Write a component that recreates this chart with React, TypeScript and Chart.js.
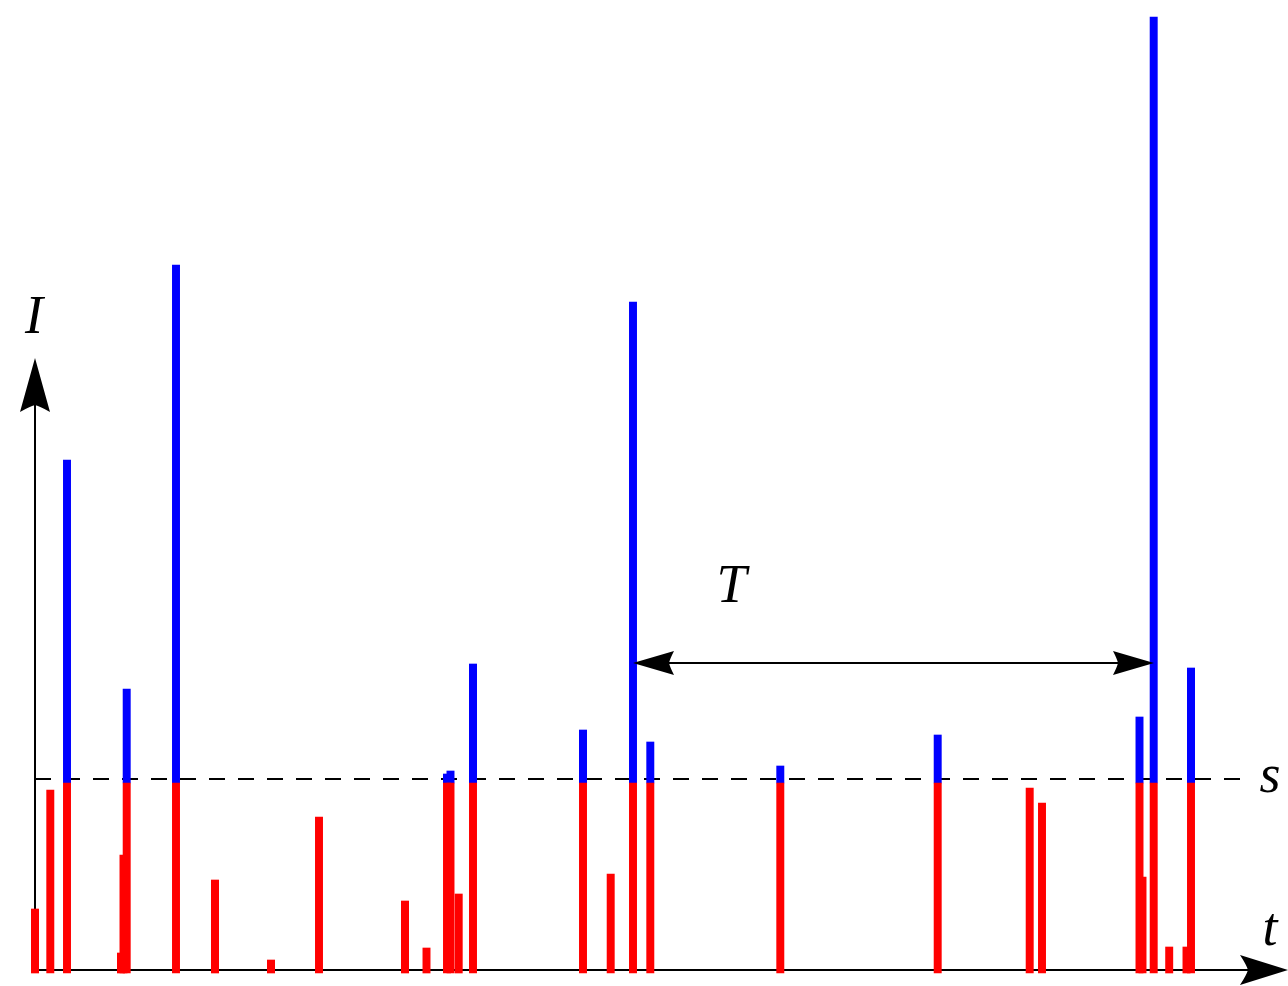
import { useEffect, useRef } from "react";
import { Chart, registerables } from "chart.js";

Chart.register(...registerables);

// time positions of the pulses (t = 0 at the vertical axis)
const T_VALUES = [
  0, 15.3, 32, 86, 88.5, 91.7, 141, 180, 236, 284, 370, 391.5, 412, 415.5, 423.7,
  438, 548, 575.7, 598, 615.3, 745.3, 902.7, 994.7, 1007, 1104.5, 1107.5, 1118.7,
  1134.2, 1151.5, 1156,
];
// intensities of the pulses
const I_VALUES = [
  61, 180, 510, 17, 115, 281, 705, 90, 10, 153, 69, 22, 196, 199, 76, 306, 240, 96,
  668, 228, 204, 235, 182, 167, 253, 93, 953, 23, 23, 302,
];
const S_LEVEL = 191; // threshold s (dashed line)
const RED_CAP = 187; // where the colour switches from red to blue
const BAR_FLOOR = -3;
const T_SPAN = [598, 1119]; // the period T between two large pulses
const T_SPAN_LEVEL = 307;
const X_MIN = -35;
const X_MAX = 1253;
const Y_MIN = -16;
const Y_MAX = 970;
const Y_AXIS_TOP = 612;
const DASH_END = 1210;

function stealth(
  ctx: CanvasRenderingContext2D,
  tx: number,
  ty: number,
  dx: number,
  dy: number,
  len: number,
  hw: number,
  notch: number
) {
  const px = -dy;
  const py = dx;
  const bx = tx - dx * len;
  const by = ty - dy * len;
  const nx = tx - dx * (len - notch);
  const ny = ty - dy * (len - notch);
  ctx.beginPath();
  ctx.moveTo(tx, ty);
  ctx.lineTo(bx + px * hw, by + py * hw);
  ctx.quadraticCurveTo(nx - dx * notch * 0.2 + px * hw * 0.35, ny - dy * notch * 0.2 + py * hw * 0.35, nx, ny);
  ctx.quadraticCurveTo(nx - dx * notch * 0.2 - px * hw * 0.35, ny - dy * notch * 0.2 - py * hw * 0.35, bx - px * hw, by - py * hw);
  ctx.closePath();
  ctx.fillStyle = "#000";
  ctx.fill();
}

const FONT = "italic 54px 'Liberation Serif', 'DejaVu Serif', serif";

const underlay = {
  id: "underlay",
  beforeDatasetsDraw(chart: any) {
    const ctx: CanvasRenderingContext2D = chart.ctx;
    const xs = chart.scales.x;
    const ys = chart.scales.y;
    const x0 = xs.getPixelForValue(0);
    const y0 = ys.getPixelForValue(0);
    ctx.save();
    ctx.strokeStyle = "#000";
    ctx.lineWidth = 2;
    ctx.beginPath();
    ctx.moveTo(x0, y0);
    ctx.lineTo(x0, ys.getPixelForValue(Y_AXIS_TOP) + 30);
    ctx.moveTo(x0 - 1, y0);
    ctx.lineTo(xs.getPixelForValue(X_MAX) - 30, y0);
    ctx.stroke();
    // threshold
    ctx.lineWidth = 2;
    ctx.setLineDash([16, 13]);
    ctx.beginPath();
    const ys_ = Math.round(ys.getPixelForValue(S_LEVEL));
    ctx.moveTo(x0, ys_);
    ctx.lineTo(xs.getPixelForValue(DASH_END), ys_);
    ctx.stroke();
    ctx.setLineDash([]);
    // axis arrows
    stealth(ctx, x0, ys.getPixelForValue(Y_AXIS_TOP), 0, -1, 54, 15, 7);
    stealth(ctx, xs.getPixelForValue(X_MAX), y0, 1, 0, 48, 15, 8);
    ctx.restore();
  },
  afterDatasetsDraw(chart: any) {
    const ctx: CanvasRenderingContext2D = chart.ctx;
    const xs = chart.scales.x;
    const ys = chart.scales.y;
    const a = xs.getPixelForValue(T_SPAN[0]);
    const b = xs.getPixelForValue(T_SPAN[1]);
    const yy = ys.getPixelForValue(T_SPAN_LEVEL);
    ctx.save();
    ctx.strokeStyle = "#000";
    ctx.lineWidth = 1.8;
    ctx.beginPath();
    ctx.moveTo(a + 20, yy);
    ctx.lineTo(b - 20, yy);
    ctx.stroke();
    stealth(ctx, a, yy, -1, 0, 41, 12, 5);
    stealth(ctx, b, yy, 1, 0, 41, 12, 5);
    ctx.fillStyle = "#000";
    ctx.font = FONT;
    ctx.textAlign = "center";
    ctx.textBaseline = "alphabetic";
    ctx.fillText("I", xs.getPixelForValue(0) - 1, 333);
    ctx.fillText("T", (a + b) / 2 - 162, 602);
    ctx.fillText("s", xs.getPixelForValue(X_MAX) - 18, 792);
    ctx.fillText("t", xs.getPixelForValue(X_MAX) - 18, 945);
    ctx.restore();
  },
};

export default function App() {
  const ref = useRef<HTMLCanvasElement | null>(null);
  useEffect(() => {
    if (!ref.current) return;
    const red = T_VALUES.map((t, i) => ({ x: t, y: [BAR_FLOOR, Math.min(I_VALUES[i], RED_CAP)] }));
    const blue = T_VALUES.map((t, i) => ({ x: t, y: I_VALUES[i] > RED_CAP ? [RED_CAP, I_VALUES[i]] : null })).filter(
      (d) => d.y !== null
    );
    const chart = new Chart(ref.current, {
      type: "bar",
      data: {
        datasets: [
          { data: red as any, backgroundColor: "#ff0000", barThickness: 7.3, grouped: false } as any,
          { data: blue as any, backgroundColor: "#0000ff", barThickness: 7.3, grouped: false } as any,
        ],
      },
      options: {
        responsive: false,
        animation: false,
        layout: { padding: 0 },
        plugins: { legend: { display: false }, tooltip: { enabled: false } },
        scales: {
          x: { type: "linear", min: X_MIN, max: X_MAX, display: false, offset: false },
          y: { type: "linear", min: Y_MIN, max: Y_MAX, display: false },
        },
      },
      plugins: [underlay],
    });
    return () => chart.destroy();
  }, []);
  return (
    <div style={{ position: "fixed", left: 0, top: 0, width: 1288, height: 986, background: "#fff" }}>
      <canvas ref={ref} width={1288} height={986} style={{ width: 1288, height: 986 }} />
    </div>
  );
}
